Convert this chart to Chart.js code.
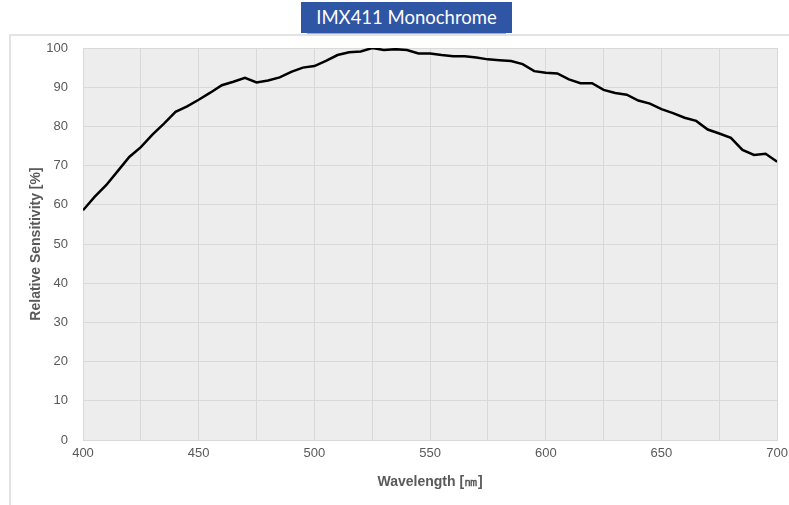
<!DOCTYPE html>
<html>
<head>
<meta charset="utf-8">
<script src="https://cdn.jsdelivr.net/npm/chart.js@4"></script>
<style>
  html, body { margin: 0; padding: 0; background: #fff; }
  body { width: 789px; height: 505px; position: relative; overflow: hidden; }
  .frame { position: absolute; left: 9px; top: 34px; width: 800px; height: 500px;
           border-left: 2px solid #e3e3e3; border-top: 2px solid #e3e3e3; }
  .title { position: absolute; left: 301px; top: 2px; width: 211px; height: 31px;
           background: #2f55a5; color: #fff; font-family: Lato, sans-serif; font-size: 18.5px;
           line-height: 31px; text-align: center; }
  .title::after { content: ""; position: absolute; left: 6px; right: 6px; bottom: -1px; height: 1px; background: #8a3f6a; opacity: .5; }
  canvas { position: absolute; left: 0; top: 0; }
</style>
</head>
<body>
<div class="frame"></div>
<div class="title">IMX411 Monochrome</div>
<canvas id="chart" width="794" height="505"></canvas>
<script>
// wavelength [nm] and relative sensitivity [%]
const wavelengths = [400, 405, 410, 415, 420, 425, 430, 435, 440, 445, 450, 455, 460, 465, 470, 475, 480, 485, 490, 495,
	500, 505, 510, 515, 520, 525, 530, 535, 540, 545, 550, 555, 560, 565, 570, 575, 580, 585, 590, 595,
	600, 605, 610, 615, 620, 625, 630, 635, 640, 645, 650, 655, 660, 665, 670, 675, 680, 685, 690, 695, 700];
const sensitivity = [58.6, 62.0, 65.0, 68.6, 72.2, 74.7, 77.9, 80.7, 83.7, 85.1, 86.8, 88.6, 90.5, 91.4, 92.4, 91.2, 91.7, 92.5, 93.9, 95.0,
	95.4, 96.7, 98.2, 98.9, 99.1, 100, 99.5, 99.7, 99.5, 98.6, 98.6, 98.2, 97.9, 97.9, 97.6, 97.1, 96.9, 96.7, 95.9, 94.1,
	93.7, 93.5, 92.0, 91.0, 91.0, 89.3, 88.5, 88.1, 86.6, 85.8, 84.4, 83.4, 82.2, 81.4, 79.2, 78.2, 77.1, 74.0, 72.7, 73.0, 71.0];
const xLabelStep = 50;

const plotBg = {
	id: 'plotBg',
	beforeDraw(chart) {
		const {ctx, chartArea: a} = chart;
		ctx.save();
		ctx.fillStyle = '#ededed';
		ctx.fillRect(a.left, a.top, a.right - a.left, a.bottom - a.top);
		ctx.restore();
	}
};

const tickFont = {family: 'Liberation Sans, Arial, sans-serif', size: 13};
const titleFont = {family: 'Liberation Sans, Arial, sans-serif', size: 14, weight: 'bold'};

new Chart(document.getElementById('chart').getContext('2d'), {
	type: 'line',
	data: {
		datasets: [{
			data: wavelengths.map((w, i) => ({x: w, y: sensitivity[i]})),
			borderColor: '#000',
			borderWidth: 2.5,
			pointRadius: 0,
			tension: 0,
			fill: false
		}]
	},
	options: {
		responsive: false,
		animation: false,
		layout: {padding: {top: 48, right: 12, left: 0, bottom: 0}},
		plugins: {legend: {display: false}, tooltip: {enabled: false}},
		scales: {
			x: {
				type: 'linear',
				min: 400, max: 700,
				afterFit: s => { s.height = 65; },
				ticks: {
					stepSize: 25,
					color: '#595959',
					font: tickFont,
					padding: 6,
					maxRotation: 0,
					autoSkip: false,
					callback: v => (v % xLabelStep === 0 ? v : '')
				},
				grid: {color: '#d9d9d9', drawTicks: false},
				border: {color: '#d9d9d9'},
				title: {display: true, text: 'Wavelength [㎚]', color: '#595959', font: titleFont, padding: {top: 0, bottom: 14}}
			},
			y: {
				min: 0, max: 100,
				afterFit: s => { s.width = 83; },
				ticks: {stepSize: 10, color: '#595959', font: tickFont, padding: 15},
				grid: {color: '#d9d9d9', drawTicks: false},
				border: {color: '#d9d9d9'},
				title: {display: true, text: 'Relative Sensitivity [%]', color: '#595959', font: titleFont, padding: {top: 28, bottom: 0}}
			}
		}
	},
	plugins: [plotBg]
});
</script>
</body>
</html>
